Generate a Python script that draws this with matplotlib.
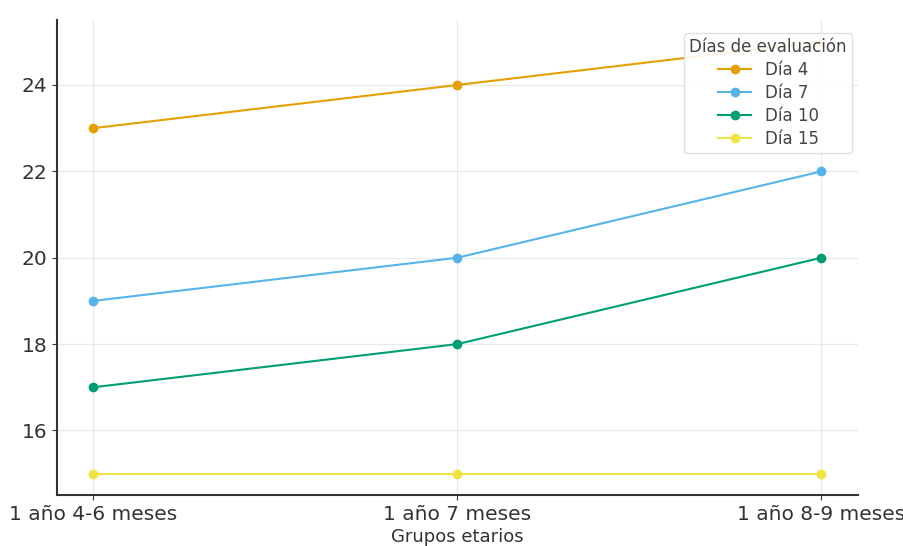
import matplotlib.pyplot as plt

grupos = ["1 año 4-6 meses", "1 año 7 meses", "1 año 8-9 meses"]
dia_4 = [23, 24, 25]
dia_7 = [19, 20, 22]
dia_10 = [17, 18, 20]
dia_15 = [15, 15, 15]

series = [
    ("Día 4", dia_4, "#E69F00"),
    ("Día 7", dia_7, "#56B4E9"),
    ("Día 10", dia_10, "#009E73"),
    ("Día 15", dia_15, "#F0E442"),
]

fig = plt.figure(figsize=(9.04, 5.46), dpi=100)
ax = fig.add_axes([0.063, 0.093, 0.886, 0.870])

for label, values, color in series:
    ax.plot(grupos, values, marker="o", markersize=6, linewidth=1.5,
            color=color, label=label)

ax.set_xlabel("Grupos etarios", fontsize=13, color="#333333", labelpad=3)
ax.tick_params(axis="both", labelsize=14.5, colors="#333333")
ax.grid(True, color="#e8e8e8", linewidth=0.8)
ax.set_axisbelow(True)
for side in ("top", "right"):
    ax.spines[side].set_visible(False)
for side in ("left", "bottom"):
    ax.spines[side].set_color("#333333")
    ax.spines[side].set_linewidth(1.5)

leg = ax.legend(title="Días de evaluación", loc="upper right",
                fontsize=12, title_fontsize=12, framealpha=0.9,
                bbox_to_anchor=(1.003, 0.99), labelcolor="#444444",
                labelspacing=0.3, borderpad=0.3)
leg.get_title().set_color("#444444")
leg.get_frame().set_edgecolor("#dddddd")

fig.savefig("out.png", dpi=100)
plt.close(fig)
